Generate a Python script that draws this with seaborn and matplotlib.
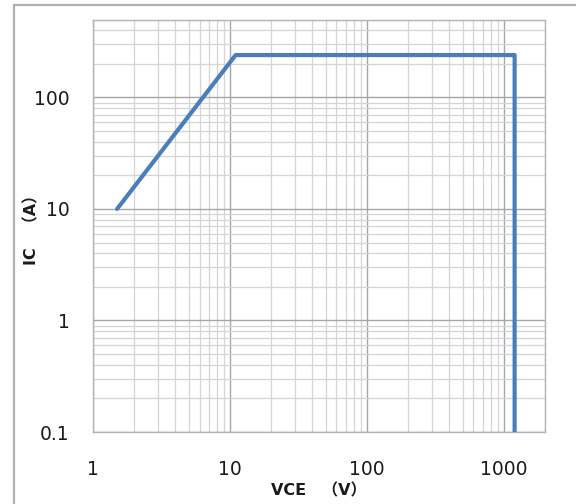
import matplotlib
matplotlib.use("Agg")
import matplotlib.pyplot as plt
import matplotlib.ticker as mticker
from matplotlib.patches import Rectangle
import numpy as np
import pandas as pd
import seaborn as sns

# Safe operating area boundary: collector current vs collector-emitter voltage
vce = [1.5, 11, 1200, 1200]
ic = [10, 240, 240, 0.1]

x_ticks = [1, 10, 100, 1000]
x_tick_labels = ["1", "10", "100", "1000"]
y_ticks = [0.1, 1, 10, 100]
y_tick_labels = ["0.1", "1", "10", "100"]

x_label = "VCE\u3000（V）"
y_label = "IC\u3000（A）"

sns.set_theme(style="white")
plt.rcParams["font.family"] = ["DejaVu Sans", "Noto Sans CJK SC"]

fig = plt.figure(figsize=(5.76, 5.04), dpi=100)
ax = fig.add_axes([93 / 576, 1 - 432 / 504, (545 - 93) / 576, (432 - 19.5) / 504])

# outer frame of the figure
fig.patches.append(Rectangle((14 / 576, -0.05), 1.2, (499 / 504) + 0.05,
                             transform=fig.transFigure, fill=False,
                             edgecolor="#b0b0b0", linewidth=1.6, zorder=0))

df = pd.DataFrame({"VCE": vce, "IC": ic})
sns.lineplot(data=df, x="VCE", y="IC", sort=False, estimator=None, ax=ax,
             color="#4a7ebb", linewidth=3.0, zorder=5)

ax.set_xscale("log")
ax.set_yscale("log")
ax.set_xlim(1, 2000)
ax.set_ylim(0.1, 500)

ax.xaxis.set_major_locator(mticker.FixedLocator(x_ticks))
ax.xaxis.set_major_formatter(mticker.FixedFormatter(x_tick_labels))
ax.yaxis.set_major_locator(mticker.FixedLocator(y_ticks))
ax.yaxis.set_major_formatter(mticker.FixedFormatter(y_tick_labels))
ax.xaxis.set_minor_locator(mticker.LogLocator(base=10, subs=np.arange(2, 10), numticks=20))
ax.yaxis.set_minor_locator(mticker.LogLocator(base=10, subs=np.arange(2, 10), numticks=20))
ax.xaxis.set_minor_formatter(mticker.NullFormatter())
ax.yaxis.set_minor_formatter(mticker.NullFormatter())

ax.grid(which="major", color="#a6a6a6", linewidth=1.0)
ax.grid(which="minor", color="#d4d4d4", linewidth=0.9)
ax.set_axisbelow(True)

for side, sp in ax.spines.items():
    sp.set_color("#b4b4b4")
    sp.set_linewidth(1.0)

ax.tick_params(axis="both", which="major", direction="out", length=5, width=1,
               color="#a6a6a6", labelsize=13.5, labelcolor="#1a1a1a")
ax.tick_params(axis="both", which="minor", length=0)
ax.tick_params(axis="x", pad=15)
ax.tick_params(axis="y", pad=12)

ax.set_xlabel(x_label, fontsize=11.5, fontweight="bold", color="#1a1a1a",
              family=["DejaVu Sans", "Noto Sans CJK SC"], labelpad=3)
ax.set_ylabel(y_label, fontsize=11.5, fontweight="bold", color="#1a1a1a",
              family=["DejaVu Sans", "Noto Sans CJK SC"], labelpad=-4)

fig.savefig("out.png", dpi=100)
